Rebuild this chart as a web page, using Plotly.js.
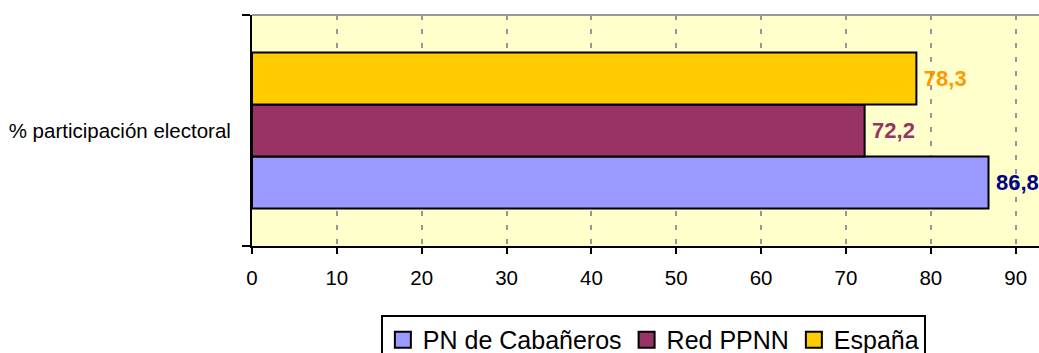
<!DOCTYPE html>
<html>
<head>
<meta charset="utf-8">
<script src="https://cdn.plot.ly/plotly-3.0.1.min.js"></script>
<style>html,body{margin:0;padding:0;background:#fff;overflow:hidden}#chart{width:1039px;height:353px}</style>
</head>
<body>
<div id="chart"></div>
<script>
const categories = ["% participación electoral"];
const seriesNames = ["PN de Cabañeros", "Red PPNN", "España"];
const pnCabaneros = [86.8];
const redPPNN = [72.2];
const espana = [78.3];
const xTicks = [0, 10, 20, 30, 40, 50, 60, 70, 80, 90];

const fillColors = ["#9999FF", "#993366", "#FFCC00"];
const labelColors = ["#000080", "#993366", "#FF9900"];
const seriesValues = [pnCabaneros, redPPNN, espana];
const FONT = "Arial, 'Liberation Sans', sans-serif";

const barTraces = seriesValues.map((vals, i) => ({
  type: "bar",
  orientation: "h",
  name: seriesNames[i],
  y: categories,
  x: vals,
  showlegend: false,
  marker: {color: fillColors[i], line: {color: "#000000", width: 2}},
  texttemplate: "\u2009%{x:.1f}",
  textposition: "outside",
  textfont: {family: FONT, size: 22, color: labelColors[i], weight: "bold"},
  cliponaxis: false,
  hoverinfo: "skip"
}));

// legend entries (larger square swatches than the bar default)
const legendTraces = seriesNames.map((name, i) => ({
  type: "scatter",
  mode: "markers",
  name: name,
  x: [null],
  y: [null],
  showlegend: true,
  marker: {symbol: "square", size: 16, color: fillColors[i], line: {color: "#000000", width: 2}},
  hoverinfo: "skip"
}));

const layout = {
  width: 1039,
  height: 353,
  margin: {l: 252, r: 0, t: 15, b: 107, autoexpand: false},
  paper_bgcolor: "#ffffff",
  plot_bgcolor: "#FFFFCC",
  separators: ",.",
  barmode: "group",
  bargap: 0.325,
  bargroupgap: 0,
  font: {family: FONT, size: 20, color: "#000000"},
  showlegend: true,
  legend: {
    orientation: "h",
    x: 0.51, xanchor: "center",
    y: -0.2987, yanchor: "top",
    bordercolor: "#000000", borderwidth: 2,
    bgcolor: "#ffffff",
    font: {family: FONT, size: 25, color: "#000000"},
    traceorder: "normal",
    itemsizing: "trace"
  },
  xaxis: {
    range: [0, 92.75],
    tickvals: xTicks,
    ticks: "outside",
    ticklen: 6,
    tickwidth: 2,
    tickcolor: "#000000",
    ticklabelstandoff: 6,
    showline: true,
    linecolor: "#000000",
    linewidth: 2,
    showgrid: true,
    gridcolor: "#969696",
    gridwidth: 2,
    griddash: "5px,9px",
    zeroline: false,
    tickfont: {family: FONT, size: 20.5, color: "#000000"},
    fixedrange: true
  },
  yaxis: {
    type: "category",
    ticks: "outside",
    tickson: "boundaries",
    ticklen: 8,
    tickwidth: 2,
    tickcolor: "#000000",
    ticklabelstandoff: 15,
    showline: true,
    linecolor: "#000000",
    linewidth: 2,
    showgrid: false,
    zeroline: false,
    tickfont: {family: FONT, size: 20.5, color: "#000000"},
    fixedrange: true
  },
  shapes: [{
    type: "line", xref: "paper", yref: "paper",
    x0: 0, x1: 1, y0: 1, y1: 1,
    line: {color: "#999999", width: 2}
  }]
};

Plotly.newPlot("chart", barTraces.concat(legendTraces), layout, {displayModeBar: false, staticPlot: true});
</script>
</body>
</html>
